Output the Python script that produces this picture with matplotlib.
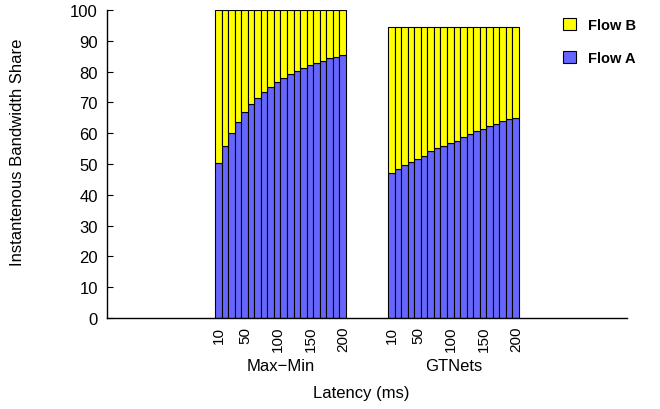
import matplotlib.pyplot as plt
import numpy as np

plt.rcParams['font.family'] = ['Liberation Sans', 'DejaVu Sans']

# latency values (ms) for each bar in a group
latency = [10, 20, 30, 40, 50, 60, 70, 80, 90, 100,
           110, 120, 130, 140, 150, 160, 170, 180, 190, 200]
tick_latency = [10, 50, 100, 150, 200]
groups = ['Max\u2212Min', 'GTNets']

# Flow A share
maxmin_a = [50.2, 55.8, 60.2, 63.8, 66.8, 69.5, 71.5, 73.5, 75.1, 76.7,
            77.9, 79.1, 80.3, 81.2, 82.2, 82.8, 83.5, 84.3, 84.8, 85.4]
gtnets_a = [47.2, 48.3, 49.6, 50.5, 51.5, 52.6, 54.1, 55.1, 55.9, 56.7,
            57.4, 58.9, 59.6, 60.6, 61.3, 62.4, 63.0, 64.0, 64.5, 65.1]
# total bar height (Flow A + Flow B)
maxmin_total = [100.0] * 20
gtnets_total = [94.4] * 20

blue = '#6666ff'
yellow = '#ffff00'

fig = plt.figure(figsize=(6.6, 4.1), dpi=100)
ax = fig.add_axes([0.1621, 0.222, 0.7879, 0.751])

n = len(latency)
gap = 6.45
starts = [0, n + gap]
series = [(maxmin_a, maxmin_total), (gtnets_a, gtnets_total)]

for s, (a, tot) in zip(starts, series):
    x = s + np.arange(n)
    b = np.array(tot) - np.array(a)
    ax.bar(x, a, width=1, align='edge', color=blue, edgecolor='black', linewidth=0.8)
    ax.bar(x, b, bottom=a, width=1, align='edge', color=yellow, edgecolor='black', linewidth=0.8)

# x ticks: latency labels inside each group
ticks = []
labels = []
for s in starts:
    for t in tick_latency:
        ticks.append(s + t / 10 - 0.35)
        labels.append(str(t))
ax.set_xticks(ticks)
ax.set_xticklabels(labels, rotation=90, fontsize=11)
ax.tick_params(axis='x', length=0, pad=5.5)

for s, g in zip(starts, groups):
    ax.text(s + n / 2, -0.153, g, transform=ax.get_xaxis_transform(),
            ha='center', va='center', fontsize=12)

ax.set_xlim(-16.5, starts[1] + n + 16.5)
ax.set_ylim(0, 100)
ax.set_yticks(np.arange(0, 101, 10))
ax.tick_params(axis='y', direction='in', length=4.5, labelsize=12, pad=6.5)

for sp in ['top', 'right']:
    ax.spines[sp].set_visible(False)
ax.spines['left'].set_linewidth(1.0)
ax.spines['bottom'].set_linewidth(1.0)

ax.set_xlabel('Latency (ms)', fontsize=12, va='center')
ax.xaxis.set_label_coords(0.488, -0.2435)
ax.set_ylabel('Instantenous Bandwidth Share', fontsize=12)
ax.yaxis.set_label_coords(-0.157, 0.54)

hb = plt.Rectangle((0, 0), 1, 1, facecolor=yellow, edgecolor='black', linewidth=0.8)
ha = plt.Rectangle((0, 0), 1, 1, facecolor=blue, edgecolor='black', linewidth=0.8)
leg = fig.legend([hb, ha], ['Flow B', 'Flow A'], loc='upper left',
                 bbox_to_anchor=(556 / 660, 1 - 12 / 410), frameon=False,
                 borderpad=0, handlelength=0.9, handleheight=0.9,
                 handletextpad=0.8, labelspacing=1.27,
                 prop={'weight': 'bold', 'size': 10.5})

fig.savefig('out.png', dpi=100)
